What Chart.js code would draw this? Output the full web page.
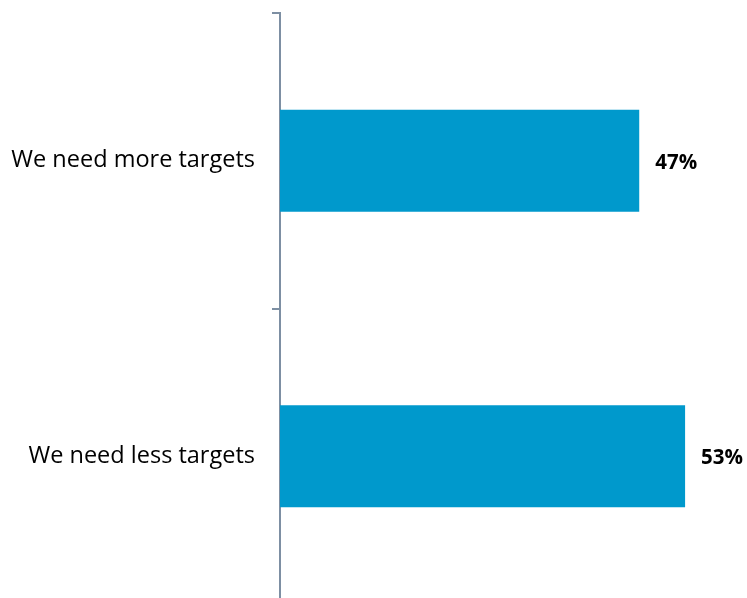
<!DOCTYPE html>
<html lang="en">
  <head>
    <meta charset="UTF-8" />
    <title>Targets</title>
    <script src="https://cdn.jsdelivr.net/npm/chart.js"></script>
    <style>
      html,
      body {
        margin: 0;
        padding: 0;
        background: #fff;
        overflow: hidden;
      }
      .chart-box {
        width: 747px;
        height: 604px;
        position: relative;
      }
    </style>
  </head>
  <body>
    <div class="chart-box">
      <canvas id="targetsChart"></canvas>
    </div>
    <script>
      // data
      const categories = ["We need more targets", "We need less targets"];
      const shares = [47, 53];

      const barColor = "#0099cc";
      const axisColor = "#7d8fa3";

      // value labels to the right of each bar
      const valueLabels = {
        id: "valueLabels",
        afterDatasetsDraw(chart) {
          const { ctx } = chart;
          const meta = chart.getDatasetMeta(0);
          ctx.save();
          ctx.font = "bold 20.5px 'Open Sans'";
          ctx.fillStyle = "#000";
          ctx.textBaseline = "alphabetic";
          meta.data.forEach((bar, i) => {
            ctx.fillText(shares[i] + "%", bar.x + 16, bar.y + 8);
          });
          ctx.restore();
        },
      };

      new Chart(document.getElementById("targetsChart"), {
        type: "bar",
        data: {
          labels: categories,
          datasets: [
            {
              data: shares,
              backgroundColor: barColor,
              categoryPercentage: 1,
              barPercentage: 0.346,
            },
          ],
        },
        options: {
          indexAxis: "y",
          responsive: true,
          maintainAspectRatio: false,
          animation: false,
          layout: { padding: { top: 13, left: 0, right: 0, bottom: 0 } },
          plugins: {
            legend: { display: false },
            tooltip: { enabled: false },
          },
          scales: {
            x: {
              display: false,
              min: 0,
              max: 61.1,
            },
            y: {
              offset: true,
              afterFit(scale) {
                scale.width = 280;
                scale.paddingTop = 0;
                scale.paddingBottom = 0;
              },
              border: { color: axisColor, width: 2 },
              grid: {
                offset: true,
                drawOnChartArea: false,
                color: axisColor,
                lineWidth: 2,
                tickLength: 8,
              },
              ticks: {
                color: "#000",
                padding: 17,
                font: { family: "Open Sans", size: 23.5 },
              },
            },
          },
        },
        plugins: [valueLabels],
      });
    </script>
  </body>
</html>
